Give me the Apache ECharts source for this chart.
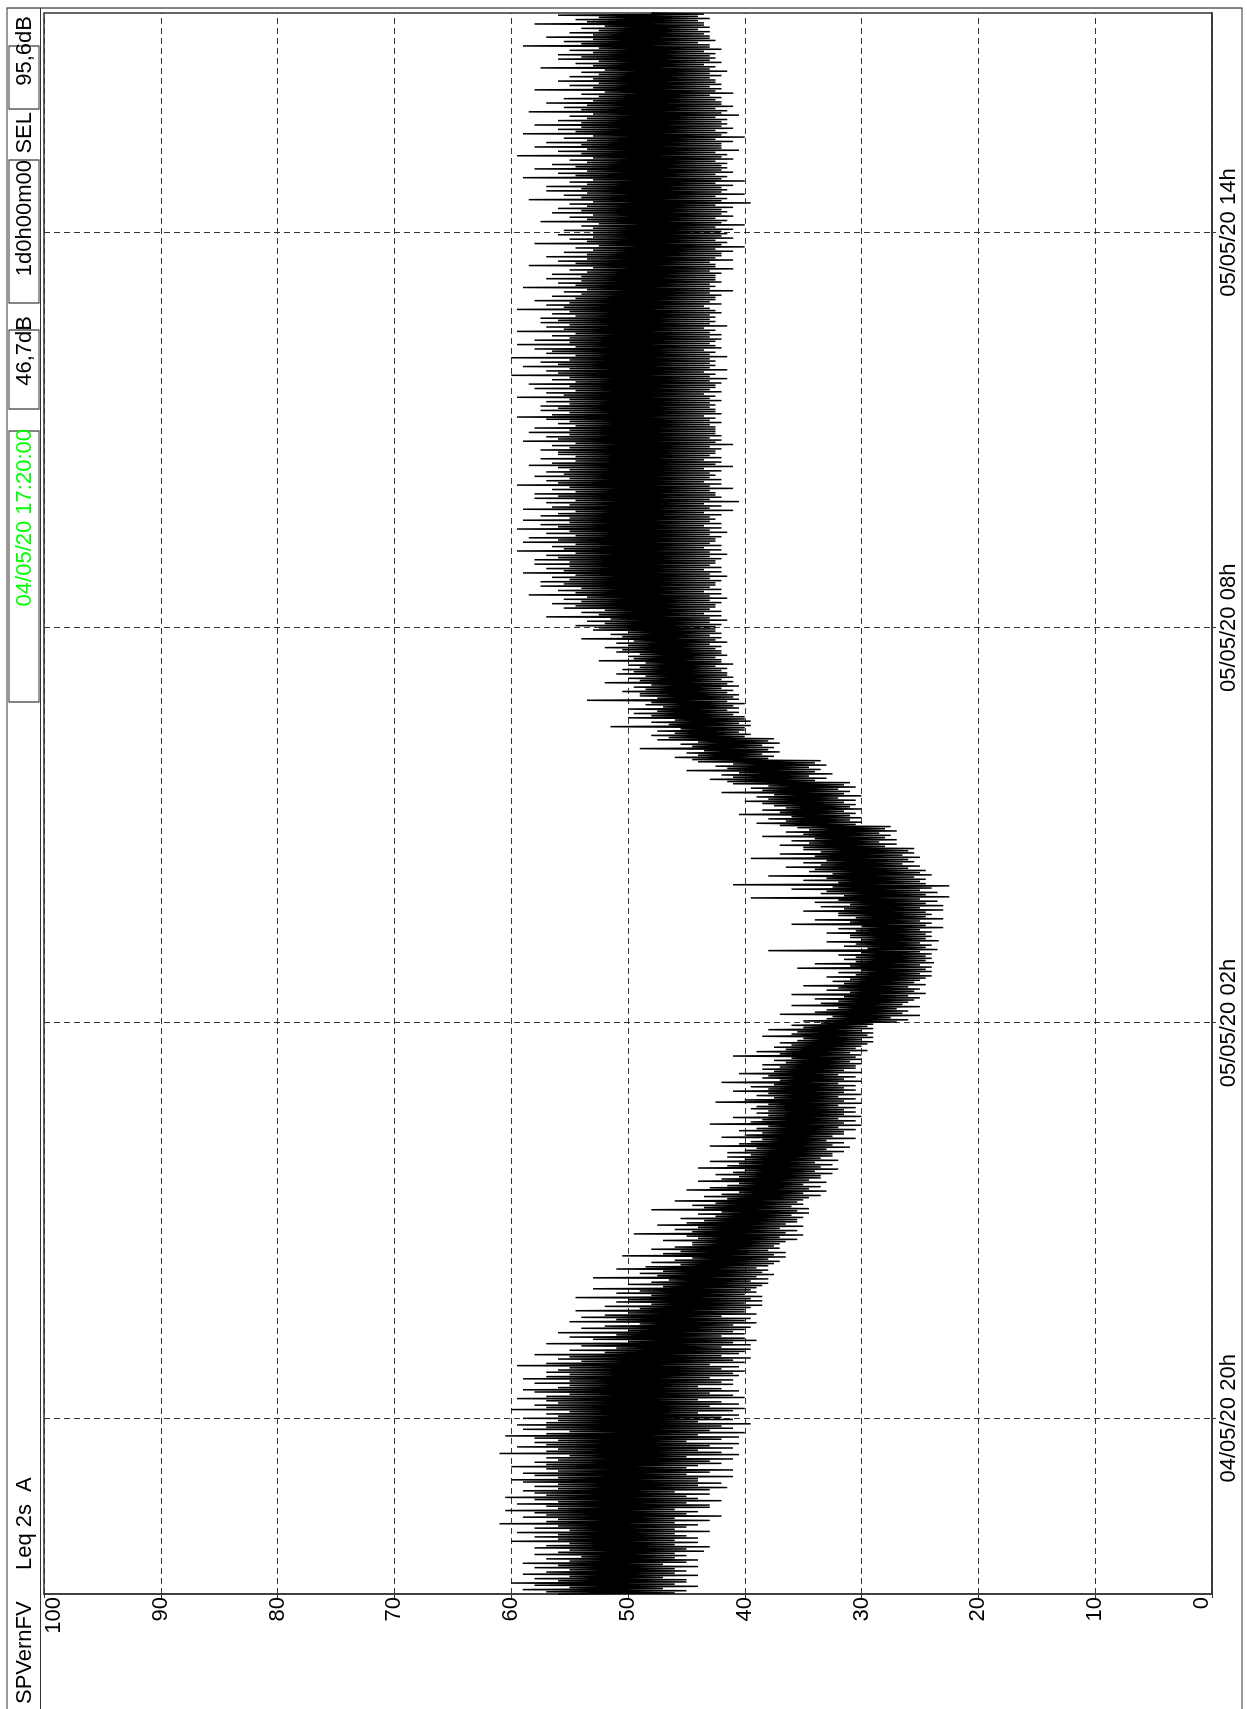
<!DOCTYPE html>
<html><head><meta charset="utf-8">
<script src="https://cdn.jsdelivr.net/npm/echarts@6/dist/echarts.min.js"></script>
<style>
html,body{margin:0;padding:0;background:#fff;overflow:hidden;width:1247px;height:1709px;}
#chart{position:absolute;left:0;top:0;width:1709px;height:1247px;transform-origin:0 0;transform:translate(0px,1709px) rotate(-90deg);}
</style></head><body><div id="chart"></div>
<script>
// Leq 2s (A) in dB, one reading per minute from 04/05/20 17:20 to 05/05/20 17:20
const leqEvening = [
56,46,57,45,59,47,55,44,58,46,60,45,56,45,58,47,55,44,59,46,
57,45,55,46,58,44,56,47,59,45,55,44,57,46,54,45,58,46,56,43.5,
55,45,58,43,57,46,55,44,60,46,56,44,58,45,56,46,59.5,43,55,46,
58,45,56,44,61,46,57,43,56,46,59,42,57,45,58,44,60.5,46,56,43,
57,43,59.5,45,56,42,58,44,60.5,45,57,43,58,46,59,43,56,41.5,58,44,
56,42,59,44,60,44,56,41,58,45,59,43,56,41,57,45,60,44,57,42,
58,43,56,41,57,45,55,40.5,61,42,57,44,56,41,59.5,43,57,40.5,58,45,
56,42,58,40.5,60.5,44,57,40,55,43,59,41,57,42,59.5,39.5,57,44,56,41,
59,42,56,40.5,57,44,55,41,60,40,57,43,58,40.5,56,42,57,44,59.5,40,
57,41,55,43,58,40.5,59,42,56,44,55,41,58,42,55,41,59,43,57,40.5,
55,41,57,40,56,42,55,40.5,59.5,43,57,40,54,41,56,39.5,55,42,58,40.5,
52,40,55,39.5,51,42,54,39.5,57,41,50,39,53,40,55,42,51,40,56,41,
50,40,54,39.5,52,41,49,39,55,40,51,39.5,54,42,52,39,50,40,54.5,40,
49,39.5,52,38.5,48,40,51,38.5,50,39.5,54.5,38.5,48,40,51,39,49,39.5,53,39,
47,38.5,50,38,48,39.5,46.5,38,53,39,47.5,37.5,49,38.5,47,38,51,39,48.5,38
];
const leqNight = [
45.5,37.5,48,37,46,38,44.5,36.5,50.5,37.5,47,36.5,45.5,38,48,37,46,37.5,44.5,37,
44.5,36.5,47,35.5,44,37,45,35,49.5,36.5,44.5,35.5,46,37,44,35,47.5,36.5,45,35.5,
43.5,35.5,45.5,35,42.5,36,44,34.5,42,35.5,48,34.5,43.5,36,44.5,35,42.5,35.5,46,35,
41.5,34.5,43.5,33.5,42,35,40.5,33,45,34.5,43,33.5,41.5,35,40.5,33,44,34.5,42,33.5,
40.5,33.5,42.5,32.5,41,34,40,32,44,33.5,41.5,32.5,40.5,34,43,32,40,33.5,41.5,32.5,
39.5,32.5,41.5,31.5,40,33,39,31,43,32.5,40.5,31.5,39.5,33,38.5,30.5,42,32.5,40,31.5,
38.5,31.5,40.5,30.5,39,32,38,30,43,31.5,39.5,30.5,38.5,32,41,30,38,31.5,39,30.5,
38,31.5,39.5,30.5,39,32,38,30,42.5,31.5,40,30.5,37.5,32,39,30,38,31.5,41,30.5,
38,31.5,39.5,30.5,37.5,32,42,30,37,31.5,38.5,30.5,38,32,40.5,30,37.5,31.5,38.5,30.5,
37,30.5,38.5,30,36.5,31,37.5,30,36,30.5,41,30,37,31,39,29.5,36.5,30.5,37.5,30,
36,29.5,37,29,35.5,30,35,29,38.5,29.5,36,29,35.5,30,38,29,35,29.5,36,29,
33.5,27,35,26,33,27.5,32.5,25,37,26.5,34,26,33,27,32,25,36,26.5,33.5,26,
32,25.5,34,25,31.5,26,36,24.5,31,25.5,33,25,32,26,35,24.5,31.5,25.5,32.5,25,
31,24.5,33,24,30.5,25,32,24,30,24.5,35.5,24,31,25,34,23.8,30.5,24.5,31.5,24,
30.5,24.5,32,24,30,25,38,23.5,29.5,24.5,31.5,24,30.5,25,33,23.4,30,24.5,31,24,
31,24.5,33,24,30.5,25,32,23,30,24.5,36,24,31,25,34,23,30.5,24.5,32,24,
32,24.5,35,23,31.5,25,33.5,23,31,24.5,34,23.5,32,25,39.5,22.5,31.5,24.5,33.5,23.5,
33,25,36,24,32.5,22.5,41,24.5,32,25,35,24.5,33,25.5,38,24,32.5,25,34.5,24.5,
34,26,36.5,25,33.5,26.5,35,25.5,33,26,39.5,25,34,26.5,37,25.5,33.5,26,35,25.5,
35,28,37,27,34.5,28.5,36,27,34,28,38.5,27.5,35,28.5,36.5,27,34.5,28,35.5,27.5,
37,30.5,39,30,36.5,31,38,30,36,31,40.5,30.5,37,31.5,38.5,30,36.5,31,37.5,30.5
];
const leqMorning = [
38.5,31.5,40,30.5,38,32,39,30,37.5,31.5,42,31,38.5,32,39.5,30.5,38,31.5,41,31,
41.5,34,43,33,41,34.5,42,32.5,40.5,34,45,33.5,41.5,34.5,42.5,33,41,34,44,33.5,
44.5,38,46,37.5,44,38.5,45,37,43.5,38,49,37.5,44.5,38.5,45.5,37,44,38,47.5,37.5,
46.5,40,48,39.5,46,40.5,47.5,40,45.5,40,51.5,39.5,46.5,40.5,48,39.5,46,40,50,40,
48,41,49.5,40.5,47.5,41.5,50,40.5,47,41,48.5,40,48,41.5,53.5,40.5,47.5,41,49,40.5,
49,41.5,50.5,41,48.5,42,49.5,40.5,48,41.5,52,41,49,42,50,41,48.5,41.5,51,41.5,
49.5,42,50.5,41.5,49,42.5,50,41,48.5,42,52.5,42,49.5,42.5,50,41.5,49,42,51,42,
50.5,42.5,52,42,50,43,51,41.5,49.5,42.5,54,42,50.5,43,51.5,42,50,42.5,53,42.5,
52.5,42.5,54.5,42,52,43,53.5,41.5,51.5,43,57,42,52.5,43.5,54,42,52,43,55.5,42.5,
54.5,42.5,56.5,42,54,43,55.5,41.5,53.5,43,58.5,42,54.5,43.5,56,42,54,43,57.5,42.5,
55.5,42.5,57.5,42,55,43,56.5,41.5,54.5,43,59,42,55.5,43.5,57,42,55,43,58,42.5,
55,42.5,58,42,56,43,57,41.5,54.5,43,59.5,42,55.5,43.5,56.5,42,54.5,43,59,42.5
];
const leqDay = [
56,42.5,58.5,42,54.5,43,57,41.5,55,43,59.5,42,56,43.5,57.5,42,55,43,59,42.5,
55,43,57.5,42,56,43.5,54.5,41,59,43,56.5,42,55,43.5,57,40.5,54.5,43,58,42,
56,42.5,58,42.5,54.5,43,56.5,41,55,43,59.5,42,56,43.5,57,42,55,43,58,42.5,
55.5,43,57,42,55,43.5,56,41,58.5,42.5,56.5,42,54.5,43.5,57.5,42,54.5,43,56,42.5,
56,42.5,57.5,42,55,43,56.5,41,54.5,42.5,59,42,56,43,57,42,55,42.5,58.5,42.5,
55,42.5,58,42.5,54.5,43,56,42,55,43,57,42.5,59.5,43.5,56.5,42,55,42.5,57.5,42.5,
56,43,57.5,42.5,55,43,57,42,55,43,59.5,42.5,55.5,43.5,57,42,54.5,43,58,42.5,
55,42.5,58.5,42,54.5,43,56.5,41.5,55,43,60,42.5,56,43.5,57,41.5,55,43,59,42.5,
56,43,57.5,42.5,55,43,60,41.5,54.5,43,57,42.5,56.5,43.5,58,42,54.5,42.5,59.5,43,
55,42.5,58,42,55,43,56.5,42,54.5,43,59.5,42.5,55.5,43.5,57,41.5,55,43,57.5,42.5,
56,43,57.5,42.5,54.5,43,56.5,42,55,42.5,59.5,43,55.5,43.5,57,42,55,43,58,42.5,
54.5,42.5,56.5,42,54,43,55.5,41,53.5,43,59,42.5,54.5,43,56,42,54,42.5,57,42.5,
54,42.5,56.5,42,53.5,43,55,41,53,42.5,58.5,42.5,54.5,43,56,41,53.5,42.5,57,42,
53.5,42,55.5,41,53,42.5,54.5,40,52.5,42,58,41.5,53.5,42.5,55,41,53,42,56,41.5,
53,42,55.5,41,53,42.5,54,40,52.5,42,57.5,41.5,53.5,42.5,55,41,53,42,56.5,41.5,
54,42,56,41,53.5,42.5,55,39.5,53,42,58.5,41.5,54,42.5,55.5,40,53.5,42,57,41.5,
54,42,57,41,53.5,42.5,55,40,53,42,59,41.5,54.5,42.5,56,41,53.5,42,58,41.5,
54.5,42,56.5,41.5,53.5,42.5,55,41,53,42,59.5,41.5,54,42.5,56,40.5,53.5,42,58,42,
54,42,57,41,53.5,42.5,55.5,40,53,42,59,41.5,54.5,42.5,56,41,54,42,58,41.5,
54,42,56,41.5,53.5,42.5,55,40.5,53,42,58.5,41.5,54,42.5,55.5,41,53.5,42,57,42,
53,42.5,55.5,42,52.5,43,54,41,52,42.5,58,42,53,43,55,42,52.5,42.5,56,42.5,
53,43,55,42,52.5,43,54,41.5,52,43,57.5,42.5,53,43.5,54.5,42,52.5,43,56,42.5,
54,43,56,42.5,53,43.5,55,42,52.5,43,59,43,54,44,55.5,42.5,53,43,57,43,
53,43.5,55,43,52.5,44,54,43,52,43.5,58,43.5,53.5,44,54.5,43,52.5,44,56,43.5,
48
];

// Time axis ticks (minutes since 04/05/20 17:20) and their labels
const tickMinutes = [160, 520, 880, 1240];
const tickLabels = ['04/05/20 20h', '05/05/20 02h', '05/05/20 08h', '05/05/20 14h'];

// Header fields
const stationName = 'SPVernFV';
const indexName = 'Leq 2s';
const weighting = 'A';
const startTime = '04/05/20 17:20:00';
const leqGlobal = '46,7dB';
const duration = '1d0h00m00';
const selName = 'SEL';
const selValue = '95,6dB';

const leq = leqEvening.concat(leqNight, leqMorning, leqDay);
const minutes = leq.map((v, i) => String(i));

const FONT = '"Liberation Sans", Arial, Helvetica, sans-serif';
const FS = 22;
const LINE = '#333';
const isTick = (i) => tickMinutes.indexOf(i) >= 0;

function txt(text, x, align, color) {
  return {
    type: 'text', x: x, y: 25, silent: true,
    style: {
      text: text, fill: color || '#000',
      font: FS + 'px ' + FONT,
      align: align, textAlign: align,
      verticalAlign: 'middle', textVerticalAlign: 'middle'
    }
  };
}
function box(x, y, w, h) {
  return { type: 'rect', silent: true, shape: { x: x, y: y, width: w, height: h },
    style: { fill: 'none', stroke: LINE, lineWidth: 1.2 } };
}

const chart = echarts.init(document.getElementById('chart'), null, { renderer: 'canvas' });
chart.setOption({
  animation: false,
  backgroundColor: '#fff',
  grid: { left: 115, right: 13, top: 44, bottom: 35, show: true, borderColor: LINE, borderWidth: 1.5 },
  xAxis: {
    type: 'category', data: minutes, boundaryGap: false,
    axisLine: { show: true, lineStyle: { color: LINE, width: 1.5 } },
    axisTick: { show: true, interval: isTick, length: 4, lineStyle: { color: LINE } },
    axisLabel: {
      show: true, interval: isTick, margin: 6, color: '#000', fontSize: FS, fontFamily: FONT,
      formatter: (v) => tickLabels[tickMinutes.indexOf(parseInt(v, 10))] || ''
    },
    splitLine: { show: true, interval: isTick, lineStyle: { color: LINE, width: 1, type: [6, 4] } }
  },
  yAxis: {
    type: 'value', min: 0, max: 100, interval: 10,
    axisLine: { show: true, lineStyle: { color: LINE, width: 1.5 } },
    axisTick: { show: true, length: 4, lineStyle: { color: LINE } },
    axisLabel: {
      margin: 3, color: '#000', fontSize: FS, fontFamily: FONT,
      formatter: (v) => v === 100 ? '{t|100}' : (v === 0 ? '{b|0}' : '{n|' + v + '}'),
      rich: {
        t: { fontSize: FS, fontFamily: FONT, color: '#000', padding: [20, 0, 0, 0] },
        b: { fontSize: FS, fontFamily: FONT, color: '#000', padding: [0, 0, 20, 0] },
        n: { fontSize: FS, fontFamily: FONT, color: '#000' }
      }
    },
    splitLine: { show: true, lineStyle: { color: LINE, width: 1, type: [6, 4] } }
  },
  graphic: [
    box(-2, 7, 1703, 1235),
    { type: 'line', silent: true, shape: { x1: -2, y1: 40.5, x2: 1701, y2: 40.5 }, style: { stroke: LINE, lineWidth: 1.2 } },
    box(1007, 9, 271, 30),
    box(1300, 9, 79, 30),
    box(1406, 9, 143, 30),
    box(1600, 9, 63, 30),
    txt(stationName, 5, 'left'),
    txt(indexName, 139, 'left'),
    txt(weighting, 217, 'left'),
    txt(startTime, 1280, 'right', '#00ff00'),
    txt(leqGlobal, 1393, 'right'),
    txt(duration, 1549, 'right'),
    txt(selName, 1597, 'right'),
    txt(selValue, 1693, 'right')
  ],
  series: [{
    type: 'line', data: leq, symbol: 'none', showSymbol: false, silent: true,
    lineStyle: { color: '#000', width: 1.5 }, animation: false
  }]
});
</script></body></html>
